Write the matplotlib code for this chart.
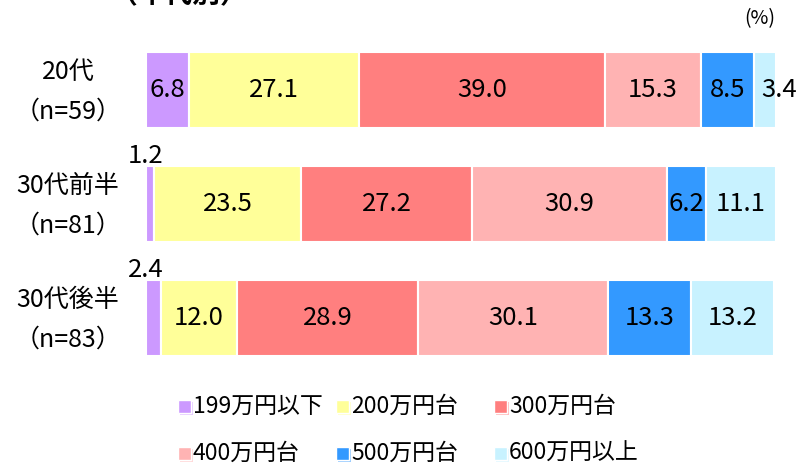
import numpy as np
import matplotlib.pyplot as plt
from matplotlib.patches import Rectangle

plt.rcParams['font.family'] = ['Noto Sans CJK JP', 'DejaVu Sans']

# 年代別の年収分布（%）
groups = ['20代', '30代前半', '30代後半']
sizes = ['（n=59）', '（n=81）', '（n=83）']
brackets = ['199万円以下', '200万円台', '300万円台', '400万円台', '500万円台', '600万円以上']
colors = ['#CC99FF', '#FFFF99', '#FF7F7F', '#FFB3B3', '#3399FF', '#C8F2FF']

share_20s = [6.8, 27.1, 39.0, 15.3, 8.5, 3.4]
share_30s_early = [1.2, 23.5, 27.2, 30.9, 6.2, 11.1]
share_30s_late = [2.4, 12.0, 28.9, 30.1, 13.3, 13.2]

W, H = 803, 465
fig = plt.figure(figsize=(W / 100, H / 100), dpi=100)
ax = fig.add_axes([146 / W, 1 - 375 / H, 629 / W, 342 / H])

rows = [share_20s, share_30s_early, share_30s_late]
bar_h = 0.665
val_fs = 18.5
for i, vals in enumerate(rows):
    left = 0.0
    for j, v in enumerate(vals):
        ax.barh(i, v, left=left, height=bar_h, color=colors[j],
                edgecolor='white', linewidth=1.5)
        label = f'{v:.1f}'
        if v < 3:
            # too thin: put the number above the bar
            ax.annotate(label, (left, i - bar_h / 2), xytext=(0, 3),
                        textcoords='offset pixels', ha='center', va='baseline',
                        fontsize=val_fs)
        elif v < 5 and j == len(vals) - 1:
            ax.annotate(label, (left, i), xytext=(7, 0),
                        textcoords='offset pixels', ha='left', va='center',
                        fontsize=val_fs)
        else:
            ax.text(left + v / 2, i, label, ha='center', va='center', fontsize=val_fs)
        left += v

ax.set_xlim(0, 100)
ax.set_ylim(2.5, -0.5)
ax.axis('off')

# row captions
for i, (g, n) in enumerate(zip(groups, sizes)):
    ax.annotate(g, (0, i), xytext=(-78, 18), textcoords='offset pixels',
                ha='center', va='center', fontsize=18)
    ax.annotate(n, (0, i), xytext=(-78, -22), textcoords='offset pixels',
                ha='center', va='center', fontsize=18)

fig.text(775 / W, 1 - 19 / H, '(%)', ha='right', va='center', fontsize=14)
fig.text(110 / W, 1 - 3 / H, '（年代別）', ha='left', va='baseline',
         fontsize=20, fontweight='bold')

# legend, two rows of three
col_x = [178, 336, 494]
row_y = [406, 453]
sq = 13
for k, (name, c) in enumerate(zip(brackets, colors)):
    x = col_x[k % 3]
    y = row_y[k // 3]
    fig.patches.append(Rectangle(((x + 2) / W, 1 - (y + sq / 2 + 2) / H), sq / W, sq / H,
                                 transform=fig.transFigure, facecolor=c, alpha=0.5,
                                 edgecolor='none'))
    fig.patches.append(Rectangle((x / W, 1 - (y + sq / 2) / H), sq / W, sq / H,
                                 transform=fig.transFigure, facecolor=c,
                                 edgecolor='white', linewidth=1))
    fig.text((x + 15) / W, 1 - y / H, name, ha='left', va='center', fontsize=16.5)

fig.savefig('out.png', dpi=100)
